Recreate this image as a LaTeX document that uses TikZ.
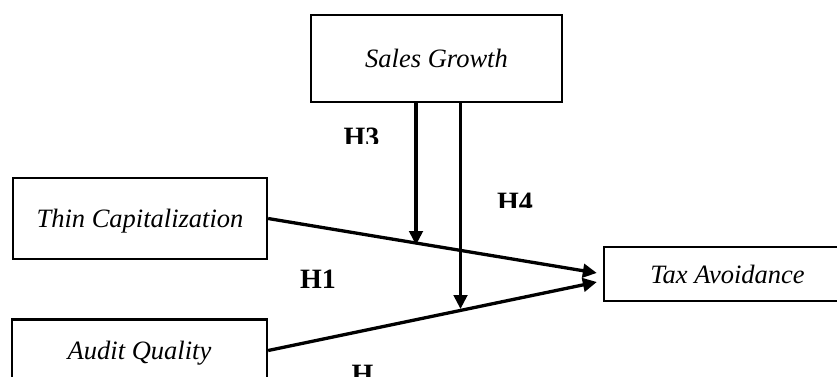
\documentclass[tikz,border=0pt]{standalone}
\usepackage{fontspec}
\setmainfont{Liberation Serif}
\usetikzlibrary{arrows.meta,calc}
\begin{document}
\begin{tikzpicture}[x=1pt,y=-1pt,
  box/.style={draw, line width=2.3pt, inner sep=0pt,
    font=\fontsize{26.5}{30}\selectfont\itshape, text height=18pt, text depth=0pt},
  link/.style={line width=3.3pt, -{Triangle[length=14pt,width=13.5pt]}},
  hlab/.style={font=\fontsize{28}{32}\selectfont\bfseries, inner sep=0pt, anchor=base}]
\useasboundingbox (0,0) rectangle (837,376);
% boxes
\node[box, minimum width=251pt, minimum height=87pt] (sg) at (436.5,58.5) {Sales Growth};
\node[box, minimum width=254pt, minimum height=81pt] (tc) at (140,218.5) {Thin Capitalization};
\node[box, minimum width=255pt, minimum height=62pt] (aq) at (139.5,350.5) {Audit Quality};
\node[box, minimum width=247pt, minimum height=54pt] (tax) at (727.5,274) {Tax Avoidance};
% arrow ends
\coordinate (t1) at ($(tax.west)+(-6,-1)$);
\coordinate (t2) at ($(tax.west)+(-6,8)$);
\coordinate (m1) at (416,245);
\coordinate (m2) at (460.5,309);
% connectors
\draw[link] (tc.east) -- (t1);
\draw[link] (aq.east) -- (t2);
\draw[link] ($(sg.south)+(-20.5,0)$) -- (m1);
\draw[link] ($(sg.south)+(24,0)$) -- (m2);
% labels
\node[hlab] (h1) at (318,288) {H1};
\begin{scope}
  \clip (300,100) rectangle (420,143);
  \node[hlab] (h3) at (361.5,146.5) {H3};
\end{scope}
\begin{scope}
  \clip (470,150) rectangle (580,207);
  \node[hlab] (h4) at (515,211.5) {H4};
\end{scope}
\node[hlab] (h2) at (362.5,383.5) {H};
\end{tikzpicture}
\end{document}
